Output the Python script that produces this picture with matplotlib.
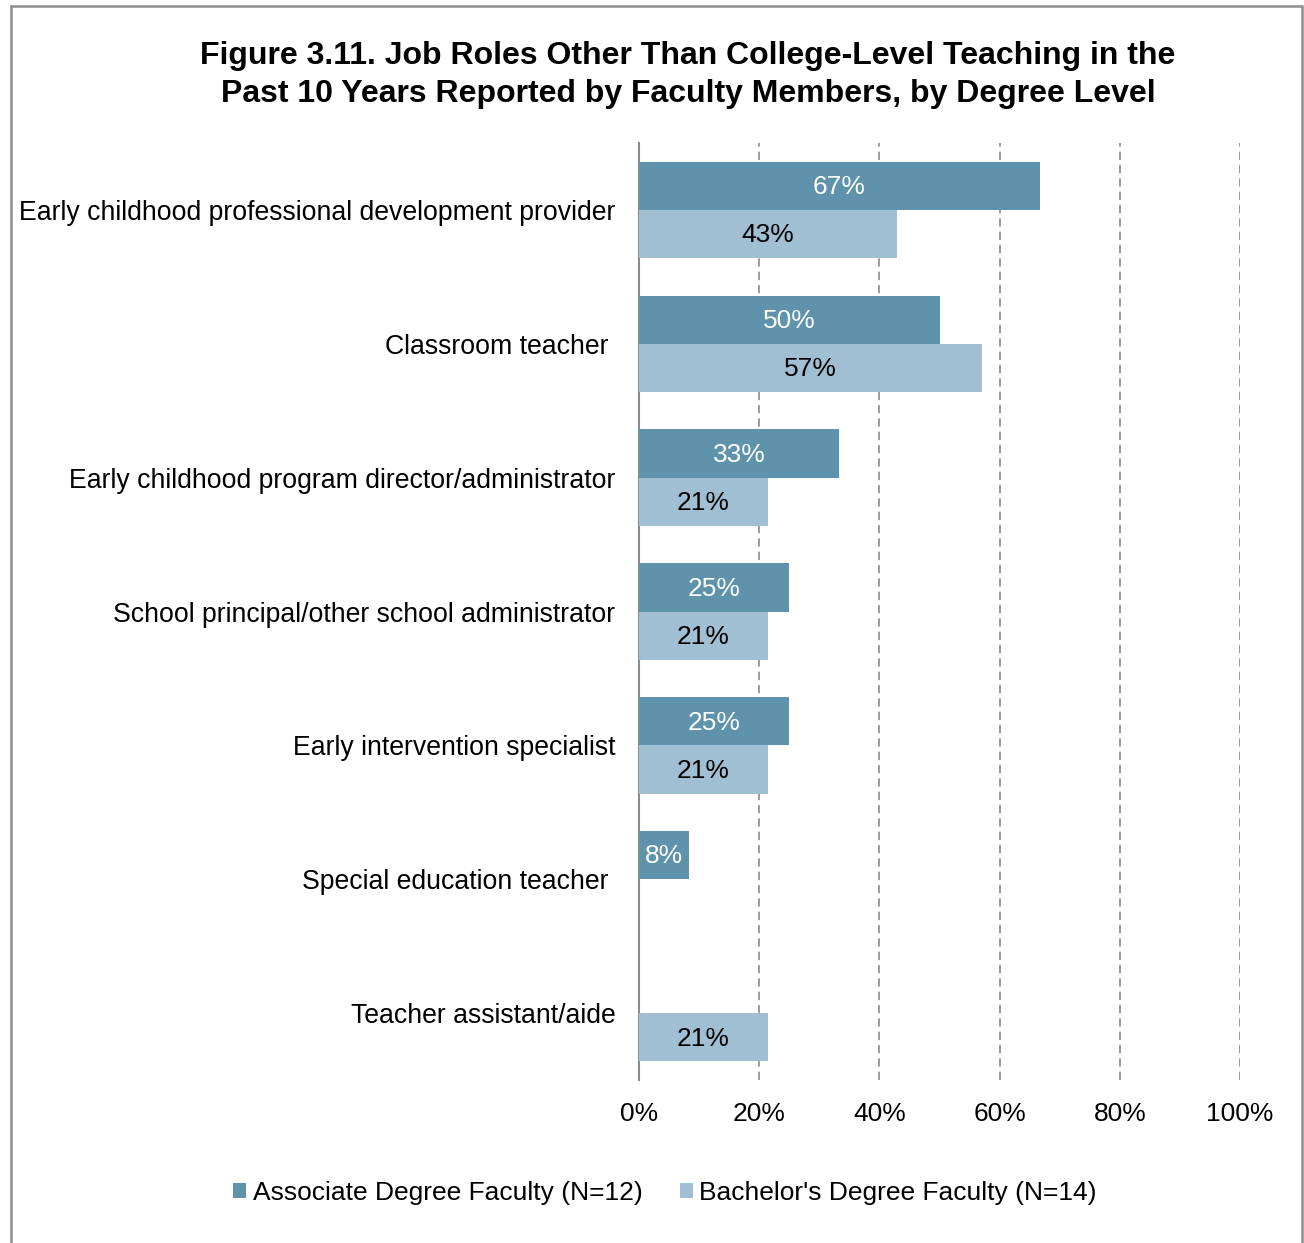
import matplotlib
matplotlib.use("Agg")
import matplotlib.pyplot as plt
from matplotlib.patches import Patch, Rectangle
import numpy as np

plt.rcParams['font.family'] = ['Liberation Sans', 'DejaVu Sans']

categories = [
    "Early childhood professional development provider",
    "Classroom teacher ",
    "Early childhood program director/administrator",
    "School principal/other school administrator",
    "Early intervention specialist",
    "Special education teacher ",
    "Teacher assistant/aide",
]
associate = [66.7, 50.0, 33.3, 25.0, 25.0, 8.3, None]
bachelor = [42.9, 57.1, 21.4, 21.4, 21.4, None, 21.4]
series_names = ["Associate Degree Faculty (N=12)", "Bachelor's Degree Faculty (N=14)"]
x_ticks = [0, 20, 40, 60, 80, 100]
x_tick_labels = ["0%", "20%", "40%", "60%", "80%", "100%"]

dark = "#5E93AB"
light = "#A0BFD2"
grid_gray = "#8C8C8C"

fig = plt.figure(figsize=(13.04, 12.43), dpi=100)
ax = fig.add_axes([639 / 1304, 1 - 1080 / 1243, 601 / 1304, 937 / 1243])

y = np.arange(len(categories))
h = 0.36
for i in range(len(categories)):
    if associate[i] is not None:
        ax.barh(y[i] - h / 2, associate[i], height=h, color=dark, zorder=3)
        ax.text(associate[i] / 2, y[i] - h / 2 + 0.01, f"{associate[i]:.0f}%", ha="center",
                va="center", color="white", fontsize=19, zorder=4)
    if bachelor[i] is not None:
        ax.barh(y[i] + h / 2, bachelor[i], height=h, color=light, zorder=3)
        ax.text(bachelor[i] / 2, y[i] + h / 2 + 0.01, f"{bachelor[i]:.0f}%", ha="center",
                va="center", color="black", fontsize=19, zorder=4)

ax.set_xlim(0, 100)
ax.set_ylim(len(categories) - 0.5, -0.5)
ax.set_yticks(y)
ax.set_yticklabels(categories, fontsize=19.2)
ax.set_xticks(x_ticks)
ax.set_xticklabels(x_tick_labels, fontsize=19)
ax.tick_params(axis="both", length=0)
ax.tick_params(axis="x", pad=16)
ax.tick_params(axis="y", pad=17)

for s in ["top", "right", "bottom"]:
    ax.spines[s].set_visible(False)
ax.spines["left"].set_color(grid_gray)
ax.spines["left"].set_linewidth(1.5)

for t in x_ticks[1:]:
    ax.axvline(t, color=grid_gray, linestyle=(0, (5, 3)), linewidth=1.2, zorder=1)

fig.text(688 / 1304, 1 - 75 / 1243,
         "Figure 3.11. Job Roles Other Than College-Level Teaching in the\n"
         "Past 10 Years Reported by Faculty Members, by Degree Level",
         ha="center", va="center", fontsize=23, fontweight="bold", linespacing=1.33)

handles = [Patch(facecolor=dark, edgecolor="none"), Patch(facecolor=light, edgecolor="none")]
fig.legend(handles, series_names, loc="center", bbox_to_anchor=(665 / 1304, 1 - 1193 / 1243),
           ncol=2, frameon=False, fontsize=19, handlelength=0.5, handleheight=0.5,
           handletextpad=0.25, columnspacing=1.4)

fig.patches.append(Rectangle((11 / 1304, -0.05), (1302 - 11) / 1304, 1.05 - 6 / 1243,
                             transform=fig.transFigure, fill=False,
                             edgecolor="#8C8C8C", linewidth=1.8))

fig.savefig("out.png", dpi=100)
